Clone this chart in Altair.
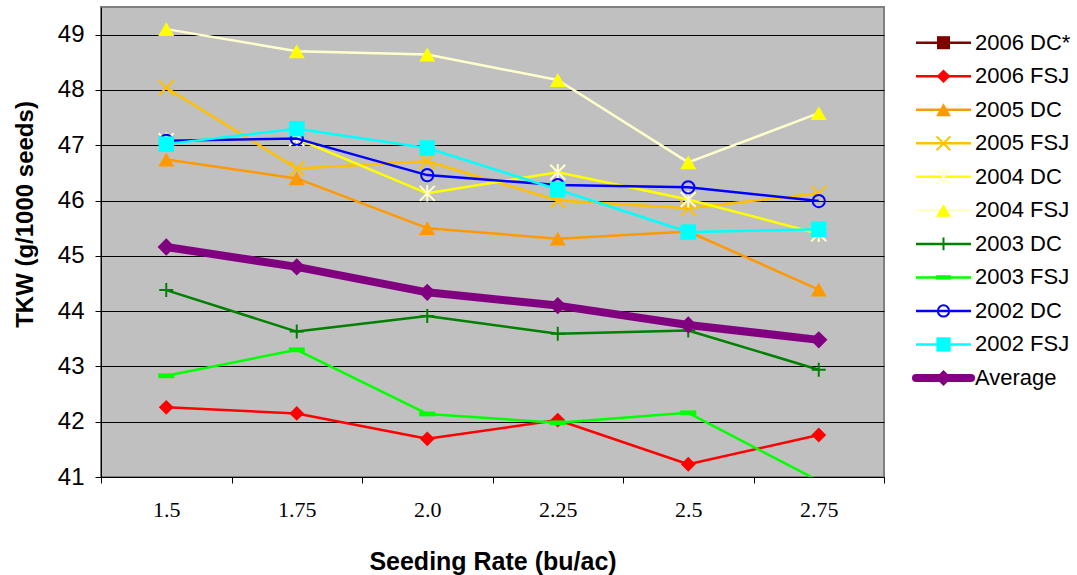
import altair as alt
import pandas as pd

# ---------------- data ----------------
rates = ["1.5", "1.75", "2.0", "2.25", "2.5", "2.75"]

s2006_dc = []  # legend entry only, no points drawn
s2006_fsj = [42.26, 42.15, 41.69, 42.03, 41.23, 41.76]
s2005_dc = [46.74, 46.40, 45.50, 45.31, 45.44, 44.39]
s2005_fsj = [48.04, 46.58, 46.71, 46.00, 45.86, 46.13]
s2004_dc = [47.08, 47.12, 46.13, 46.51, 46.02, 45.40]
s2004_fsj = [49.10, 48.70, 48.64, 48.18, 46.69, 47.58]
s2003_dc = [44.38, 43.63, 43.91, 43.59, 43.65, 42.94]
s2003_fsj = [42.83, 43.30, 42.14, 41.98, 42.16, 40.93]
s2002_dc = [47.08, 47.12, 46.46, 46.28, 46.24, 45.99]
s2002_fsj = [47.02, 47.30, 46.95, 46.20, 45.43, 45.48]
average = [45.16, 44.80, 44.34, 44.10, 43.75, 43.48]

series_names = ["2006 DC*", "2006 FSJ", "2005 DC", "2005 FSJ", "2004 DC", "2004 FSJ",
                "2003 DC", "2003 FSJ", "2002 DC", "2002 FSJ", "Average"]
series_values = [s2006_dc, s2006_fsj, s2005_dc, s2005_fsj, s2004_dc, s2004_fsj,
                 s2003_dc, s2003_fsj, s2002_dc, s2002_fsj, average]

# ---------------- styles ----------------
X_PATH = "M-1,-1L1,1M-1,1L1,-1"
AST_PATH = "M-1,-1L1,1M-1,1L1,-1M0,-1.1L0,1.1"
PLUS_PATH = "M-1,0L1,0M0,-1L0,1"
DASH_PATH = "M-1,-0.3L1,-0.3L1,0.3L-1,0.3Z"

style = {
    "2006 DC*": dict(line="#800000", mark="#800000", shape="square", filled=True, size=200, w=2.5),
    "2006 FSJ": dict(line="#FF0000", mark="#FF0000", shape="diamond", filled=True, size=220, w=2.5),
    "2005 DC": dict(line="#FF9900", mark="#FF9900", shape="triangle-up", filled=True, size=256, w=2.5),
    "2005 FSJ": dict(line="#FFC000", mark="#FFC000", shape=X_PATH, filled=False, size=225, w=2.5),
    "2004 DC": dict(line="#FFFF00", mark="#FFFFCC", shape=AST_PATH, filled=False, size=225, w=2.5),
    "2004 FSJ": dict(line="#FFFFCC", mark="#FFFF00", shape="triangle-up", filled=True, size=256, w=2.5),
    "2003 DC": dict(line="#008000", mark="#008000", shape=PLUS_PATH, filled=False, size=196, w=2.5),
    "2003 FSJ": dict(line="#00FF00", mark="#00FF00", shape=DASH_PATH, filled=True, size=256, w=2.5),
    "2002 DC": dict(line="#0000FF", mark="#0000FF", shape="circle", filled=False, size=150, w=2.5),
    "2002 FSJ": dict(line="#00FFFF", mark="#00FFFF", shape="square", filled=True, size=240, w=2.5),
    "Average": dict(line="#800080", mark="#800080", shape="diamond", filled=True, size=300, w=8),
}

rows = []
for name, vals in zip(series_names, series_values):
    for r, v in zip(rates, vals):
        rows.append({"series": name, "rate": r, "tkw": v})
df = pd.DataFrame(rows)

legend_df = pd.DataFrame({"series": series_names, "row": list(range(len(series_names)))})

# ---------------- scales / axes ----------------
x_axis = alt.Axis(
    title="Seeding Rate (bu/ac)", labelAngle=0, tickBand="extent", tickSize=6,
    tickColor="black", domainColor="black", grid=False,
    labelFont="Liberation Serif", labelFontSize=22, labelColor="black",
    labelBaseline="alphabetic", labelPadding=33,
    titleFont="Liberation Sans", titleFontSize=25, titleFontWeight="bold",
    titleColor="black", titleBaseline="alphabetic", titleY=92,
)
x_scale = alt.Scale(type="band", domain=rates, paddingInner=0, paddingOuter=0)
y_scale = alt.Scale(domain=[41, 49.5], nice=False, zero=False)
y_axis = alt.Axis(
    title="TKW (g/1000 seeds)", values=list(range(41, 50)), grid=True,
    gridColor="black", gridWidth=1, gridOpacity=1, tickColor="black", tickSize=6,
    domainColor="black", labelFont="Liberation Sans", labelFontSize=24,
    labelColor="black", labelPadding=11,
    titleFont="Liberation Sans", titleFontSize=24, titleFontWeight="bold",
    titleColor="black", titleBaseline="alphabetic", titleX=-69, titleY=207,
)

layers = []
first = True
for name, vals in zip(series_names, series_values):
    if not vals:
        continue
    st = style[name]
    base = alt.Chart(df).transform_filter(alt.datum.series == name)
    enc_x = alt.X("rate:N", sort=rates, scale=x_scale, bandPosition=0.5, axis=x_axis)
    enc_y = alt.Y("tkw:Q", scale=y_scale, axis=y_axis if first else None)
    first = False
    line = base.mark_line(color=st["line"], strokeWidth=st["w"], strokeJoin="round",
                          clip=True).encode(x=enc_x, y=enc_y)
    pts = base.mark_point(shape=st["shape"], size=st["size"], filled=st["filled"],
                          color=st["mark"], strokeWidth=2, opacity=1, clip=True).encode(
        x=enc_x, y=alt.Y("tkw:Q", scale=y_scale, axis=None))
    layers += [line, pts]

leg_scale = alt.Scale(domain=[0, 10], range=[35.7, 371], nice=False, zero=False)
leg_y = alt.Y("row:Q", scale=leg_scale, axis=None)
for name in series_names:
    st = style[name]
    lb = alt.Chart(legend_df).transform_filter(alt.datum.series == name)
    layers.append(lb.mark_rule(color=st["line"], strokeWidth=st["w"],
                               strokeCap="round" if st["w"] > 3 else "butt").encode(
        x=alt.value(815), x2=alt.value(870), y=leg_y))
    layers.append(lb.mark_point(shape=st["shape"], size=st["size"] * 0.85, filled=st["filled"],
                                color=st["mark"], strokeWidth=2, opacity=1).encode(
        x=alt.value(842.5), y=leg_y))

layers.append(alt.Chart(legend_df).mark_text(
    align="left", baseline="middle", font="Liberation Sans", fontSize=22, color="black"
).encode(x=alt.value(874), y=leg_y, text="series:N"))

chart = alt.layer(*layers).resolve_scale(y="independent").properties(
    width=783, height=470,
    autosize=alt.AutoSizeParams(type="none"),
    padding={"left": 101, "top": 7, "right": 193, "bottom": 98},
    background="white",
).configure_view(fill="#C0C0C0", stroke="#808080", strokeWidth=2)

chart.save("out.html", embed_options={"renderer": "svg", "actions": False})
